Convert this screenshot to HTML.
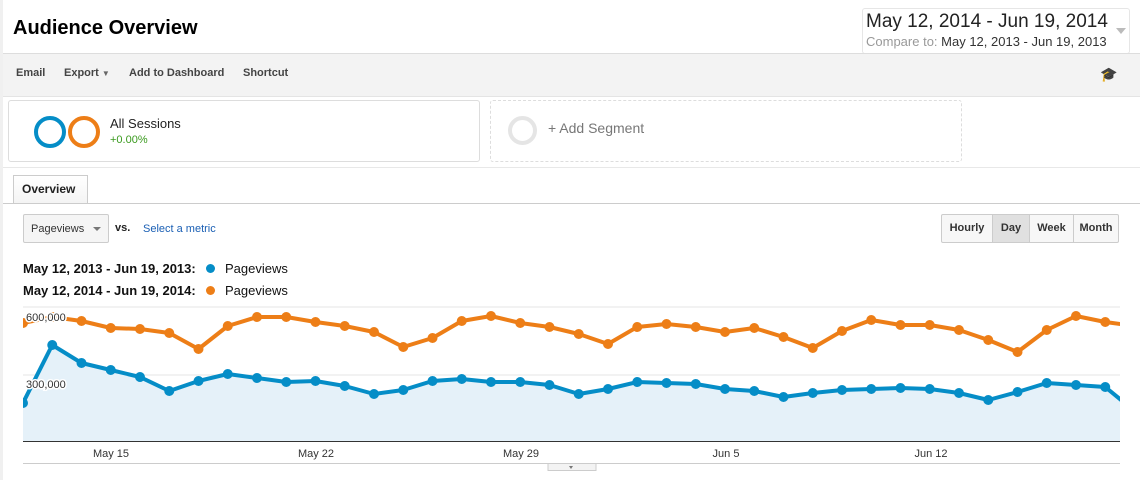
<!DOCTYPE html>
<html><head><style>
body{margin:0;width:1140px;height:480px;overflow:hidden;background:#fff;font-family:"Liberation Sans",Arial,sans-serif;position:relative}
.a{position:absolute}
</style></head><body>
<div class="a" style="left:0;top:0;width:3px;height:480px;background:#f0f0f0"></div>
<div class="a" style="left:13px;top:17px;font-size:20px;font-weight:bold;color:#000">Audience Overview</div>
<div class="a" style="left:862px;top:8px;width:266px;height:44px;border:1px solid #e6e6e6;border-radius:3px;background:#fff"></div>
<div class="a" style="left:866px;top:11px;font-size:19px;color:#222">May 12, 2014 - Jun 19, 2014</div>
<div class="a" style="left:866px;top:34px;font-size:13px;color:#999">Compare to: <span style="color:#333">May 12, 2013 - Jun 19, 2013</span></div>
<div class="a" style="left:1116px;top:28px;width:0;height:0;border-left:5px solid transparent;border-right:5px solid transparent;border-top:6px solid #bbb"></div>
<div class="a" style="left:3px;top:53px;width:1137px;height:42px;background:#f3f3f3;border-top:1px solid #ddd;border-bottom:1px solid #e4e4e4"></div>
<div class="a" style="left:16px;top:67px;font-size:11px;font-weight:bold;color:#444">Email</div>
<div class="a" style="left:64px;top:67px;font-size:11px;font-weight:bold;color:#444">Export <span style="font-size:8px;color:#666">▼</span></div>
<div class="a" style="left:129px;top:67px;font-size:11px;font-weight:bold;color:#444">Add to Dashboard</div>
<div class="a" style="left:243px;top:67px;font-size:11px;font-weight:bold;color:#444">Shortcut</div>
<div class="a" style="left:1100px;top:66px;font-size:14px;color:#333">🎓</div>
<div class="a" style="left:8px;top:100px;width:470px;height:60px;border:1px solid #ddd;border-radius:3px"></div>
<div class="a" style="left:34px;top:116px;border:4px solid #058dc7;border-radius:50%;box-sizing:border-box;width:32px;height:32px"></div>
<div class="a" style="left:68px;top:116px;width:32px;height:32px;border:4px solid #ed7e17;border-radius:50%;box-sizing:border-box"></div>
<div class="a" style="left:110px;top:116px;font-size:13px;color:#222">All Sessions</div>
<div class="a" style="left:110px;top:134px;font-size:11px;color:#3a9a1e">+0.00%</div>
<div class="a" style="left:490px;top:100px;width:470px;height:60px;border:1px dashed #ddd;border-radius:3px"></div>
<div class="a" style="left:508px;top:116px;width:29px;height:29px;border:4px solid #e5e5e5;border-radius:50%;box-sizing:border-box"></div>
<div class="a" style="left:548px;top:120px;font-size:14px;color:#777">+ Add Segment</div>
<div class="a" style="left:3px;top:167px;width:1137px;border-top:1px solid #e8e8e8"></div>
<div class="a" style="left:3px;top:203px;width:1137px;border-top:1px solid #ccc"></div>
<div class="a" style="left:13px;top:175px;width:75px;height:28px;border:1px solid #ccc;border-bottom:none;background:linear-gradient(#fff,#f4f4f4);box-sizing:border-box"></div>
<div class="a" style="left:22px;top:182px;font-size:12px;font-weight:bold;color:#222">Overview</div>
<div class="a" style="left:23px;top:214px;width:86px;height:29px;border:1px solid #ccc;border-radius:2px;background:#f5f5f5;box-sizing:border-box"></div>
<div class="a" style="left:31px;top:223px;font-size:11px;color:#333">Pageviews</div>
<div class="a" style="left:93px;top:227px;border-left:4px solid transparent;border-right:4px solid transparent;border-top:4px solid #777"></div>
<div class="a" style="left:115px;top:222px;font-size:11px;font-weight:bold;color:#222">vs.</div>
<div class="a" style="left:143px;top:223px;font-size:11px;color:#1a5fb4">Select a metric</div>
<div class="a" style="left:941px;top:214px;width:178px;height:29px;border:1px solid #ccc;border-radius:2px;box-sizing:border-box;background:#f7f7f7;display:flex;font-size:11px;font-weight:bold;color:#333">
<div style="width:50px;border-right:1px solid #ccc;text-align:center;line-height:27px">Hourly</div>
<div style="width:36px;border-right:1px solid #ccc;text-align:center;line-height:27px;background:#e0e0e0">Day</div>
<div style="width:43px;border-right:1px solid #ccc;text-align:center;line-height:27px">Week</div>
<div style="flex:1;text-align:center;line-height:27px">Month</div></div>
<div class="a" style="left:23px;top:261px;font-size:13px;font-weight:bold;color:#111">May 12, 2013 - Jun 19, 2013:</div>
<div class="a" style="left:206px;top:264px;width:9px;height:9px;border-radius:50%;background:#058dc7"></div>
<div class="a" style="left:225px;top:261px;font-size:13px;color:#111">Pageviews</div>
<div class="a" style="left:23px;top:283px;font-size:13px;font-weight:bold;color:#111">May 12, 2014 - Jun 19, 2014:</div>
<div class="a" style="left:206px;top:286px;width:9px;height:9px;border-radius:50%;background:#ed7e17"></div>
<div class="a" style="left:225px;top:283px;font-size:13px;color:#111">Pageviews</div>
<svg class="a" style="left:0;top:0" width="1140" height="480">
<line x1="23" y1="307" x2="1120" y2="307" stroke="#e6e6e6"/>
<line x1="23" y1="375" x2="1120" y2="375" stroke="#e6e6e6"/>
<defs><clipPath id="c"><rect x="23" y="300" width="1097" height="142"/></clipPath></defs>
<g id="g" clip-path="url(#c)"></g>
<line x1="23" y1="441.5" x2="1120" y2="441.5" stroke="#333"/>
<g font-size="11" fill="#333" font-family="Liberation Sans" stroke="#fff" stroke-width="3" paint-order="stroke">
<text x="26" y="321">600,000</text>
<text x="26" y="388">300,000</text></g>
<g font-size="11" fill="#333" font-family="Liberation Sans" text-anchor="middle">
<text x="111" y="457">May 15</text><text x="316" y="457">May 22</text><text x="521" y="457">May 29</text><text x="726" y="457">Jun 5</text><text x="931" y="457">Jun 12</text></g>
<line x1="23" y1="463.5" x2="1120" y2="463.5" stroke="#ccc"/>
<rect x="548" y="463.5" width="48" height="7" fill="#f3f3f3" stroke="#ccc"/>
<path d="M569 466 l4 0 l-2 3z" fill="#777"/>
</svg>
<script>
var o=[323,317,321,328,329,333,349,326,317,317,322,326,332,347,338,321,316,323,327,334,344,327,324,327,332,328,337,348,331,320,325,325,330,340,352,330,316,322,326];
var b=[403,345,363,370,377,391,381,374,378,382,381,386,394,390,381,379,382,382,385,394,389,382,383,384,389,391,397,393,390,389,388,389,393,400,392,383,385,387,411];
var X=function(i){return 23+i*29.25};
function pts(a){return a.map(function(v,i){return X(i)+','+v}).join(' ')}
var s='<polygon points="23,442 '+pts(b)+' '+X(38)+',442" fill="#e5f1f9"/>';
s+='<polyline points="'+pts(b)+'" fill="none" stroke="#058dc7" stroke-width="4" stroke-linejoin="round"/>';
s+='<polyline points="'+pts(o)+'" fill="none" stroke="#ed7e17" stroke-width="4" stroke-linejoin="round"/>';
b.forEach(function(v,i){s+='<circle cx="'+X(i)+'" cy="'+v+'" r="5" fill="#058dc7"/>'});
o.forEach(function(v,i){s+='<circle cx="'+X(i)+'" cy="'+v+'" r="5" fill="#ed7e17"/>'});
document.getElementById('g').innerHTML=s;
</script>
</body></html>
